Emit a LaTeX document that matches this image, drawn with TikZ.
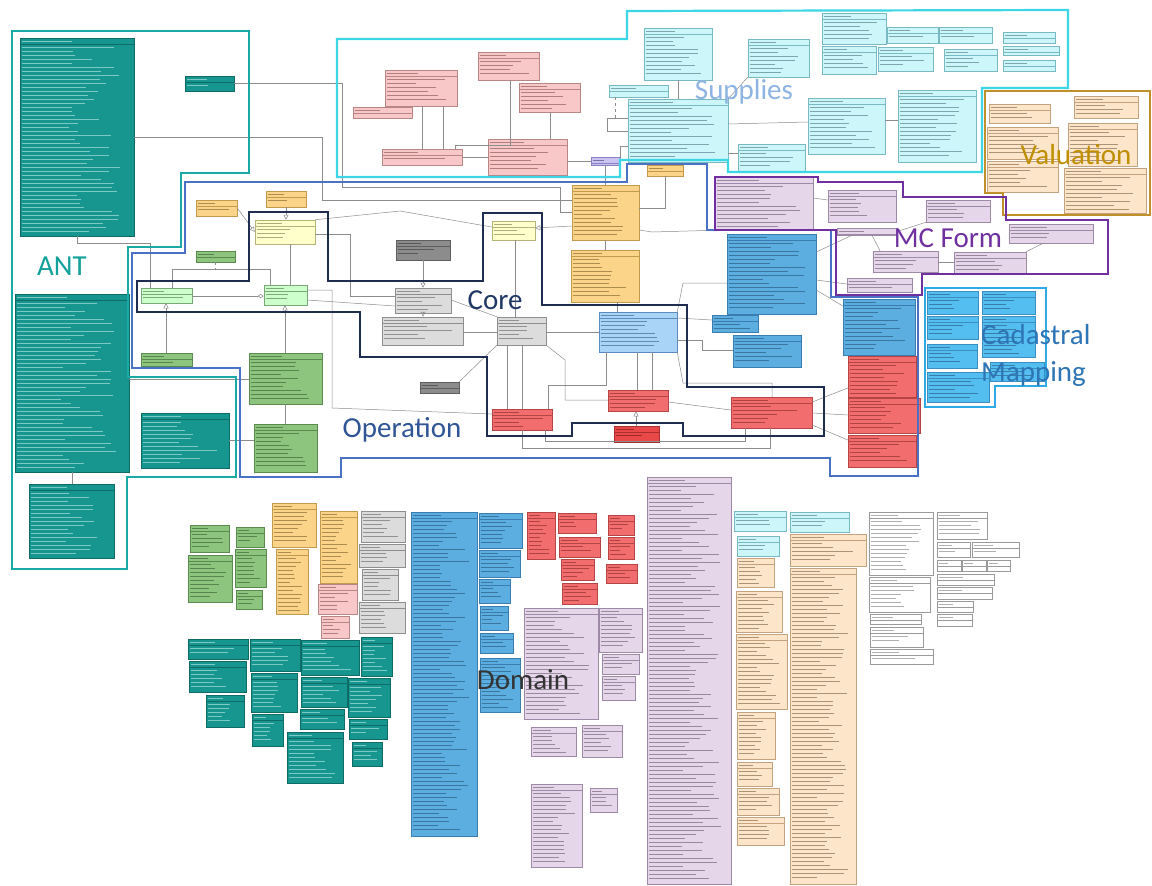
\documentclass[tikz,border=0pt]{standalone}
\usepackage{fontspec}
\setmainfont{Carlito}
\usetikzlibrary{fit,arrows.meta}
\definecolor{cTeal}{HTML}{17968F}\definecolor{cTealD}{HTML}{0E6B66}\definecolor{cTealT}{HTML}{CFF3F0}
\definecolor{cPink}{HTML}{F8C8C8}\definecolor{cPinkD}{HTML}{B98585}\definecolor{cPinkT}{HTML}{7A4040}
\definecolor{cLav}{HTML}{E6D6EA}\definecolor{cLavD}{HTML}{9E8AA6}\definecolor{cLavT}{HTML}{5A4A60}
\definecolor{cLil}{HTML}{C9C3F2}\definecolor{cLilD}{HTML}{8A82C0}\definecolor{cLilT}{HTML}{3A3270}
\definecolor{cCyan}{HTML}{CCF6FA}\definecolor{cCyanD}{HTML}{78B9C2}\definecolor{cCyanT}{HTML}{3E6670}
\definecolor{cYel}{HTML}{FBD48A}\definecolor{cYelD}{HTML}{C29A4E}\definecolor{cYelT}{HTML}{6E5220}
\definecolor{cLYel}{HTML}{FFFFCC}\definecolor{cLYelD}{HTML}{B3B37A}\definecolor{cLYelT}{HTML}{6A6A3A}
\definecolor{cLGrn}{HTML}{CCFFCC}\definecolor{cLGrnD}{HTML}{79A879}\definecolor{cLGrnT}{HTML}{3E663E}
\definecolor{cGrn}{HTML}{8DC47E}\definecolor{cGrnD}{HTML}{5A8A4E}\definecolor{cGrnT}{HTML}{2E5228}
\definecolor{cBlu}{HTML}{5BAEDF}\definecolor{cBluD}{HTML}{3A7DAF}\definecolor{cBluT}{HTML}{1F4A6E}
\definecolor{cCBlu}{HTML}{55BEF0}\definecolor{cCBluD}{HTML}{3A8FC0}\definecolor{cCBluT}{HTML}{1F4A6E}
\definecolor{cLBlu}{HTML}{A9D3F7}\definecolor{cLBluD}{HTML}{5A8CC0}\definecolor{cLBluT}{HTML}{2A4F78}
\definecolor{cRed}{HTML}{F26E6E}\definecolor{cRedD}{HTML}{B54545}\definecolor{cRedT}{HTML}{7A1F1F}
\definecolor{cDRed}{HTML}{E84848}\definecolor{cDRedD}{HTML}{A83030}\definecolor{cDRedT}{HTML}{6A1010}
\definecolor{cGry}{HTML}{DCDCDC}\definecolor{cGryD}{HTML}{8E8E8E}\definecolor{cGryT}{HTML}{555555}
\definecolor{cDGry}{HTML}{8C8C8C}\definecolor{cDGryD}{HTML}{5E5E5E}\definecolor{cDGryT}{HTML}{303030}
\definecolor{cPch}{HTML}{FDE5CA}\definecolor{cPchD}{HTML}{C3A27F}\definecolor{cPchT}{HTML}{6A5030}
\definecolor{cWht}{HTML}{FFFFFF}\definecolor{cWhtD}{HTML}{9A9A9A}\definecolor{cWhtT}{HTML}{707070}
\definecolor{cConn}{HTML}{8C8C8C}
\definecolor{rANT}{HTML}{19AAA6}\definecolor{rOp}{HTML}{4A72C4}\definecolor{rSup}{HTML}{3DD6E6}
\definecolor{rVal}{HTML}{C0902A}\definecolor{rMC}{HTML}{7030A0}\definecolor{rCad}{HTML}{2EAAE8}
\definecolor{rCore}{HTML}{1F2D50}
\definecolor{lANT}{HTML}{13A09B}\definecolor{lSup}{HTML}{8EB4E3}\definecolor{lVal}{HTML}{BF8F00}
\definecolor{lCore}{HTML}{203864}\definecolor{lCad}{HTML}{2E75B6}\definecolor{lOp}{HTML}{2F5597}
\definecolor{lDom}{HTML}{333333}
\newcommand\mkkind[4]{\tikzset{bx#1/.style={draw=#3,fill=#2,line width=0.5pt,inner sep=0pt},
  hd#1/.style={draw=#3,line width=0.4pt},
  tx#1/.style={draw=#4,line width=1.2pt,draw opacity=0.55}}}
\mkkind{teal}{cTeal}{cTealD}{cTealT}
\mkkind{pink}{cPink}{cPinkD}{cPinkT}
\mkkind{lav}{cLav}{cLavD}{cLavT}
\mkkind{lil}{cLil}{cLilD}{cLilT}
\mkkind{cyan}{cCyan}{cCyanD}{cCyanT}
\mkkind{yel}{cYel}{cYelD}{cYelT}
\mkkind{lyel}{cLYel}{cLYelD}{cLYelT}
\mkkind{lgrn}{cLGrn}{cLGrnD}{cLGrnT}
\mkkind{grn}{cGrn}{cGrnD}{cGrnT}
\mkkind{blu}{cBlu}{cBluD}{cBluT}
\mkkind{cblu}{cCBlu}{cCBluD}{cCBluT}
\mkkind{lblu}{cLBlu}{cLBluD}{cLBluT}
\mkkind{red}{cRed}{cRedD}{cRedT}
\mkkind{dred}{cDRed}{cDRedD}{cDRedT}
\mkkind{gry}{cGry}{cGryD}{cGryT}
\mkkind{dgry}{cDGry}{cDGryD}{cDGryT}
\mkkind{pch}{cPch}{cPchD}{cPchT}
\mkkind{wht}{cWht}{cWhtD}{cWhtT}
\tikzset{
  conn/.style={draw=cConn,line width=0.5pt},
  gen/.style={conn,-{Triangle[open,length=5pt,width=5pt]}},
  agg/.style={conn,-{Diamond[open,length=6pt,width=4pt]}},
  region/.style={line width=#1,line join=miter},
  lbl/.style={font=\fontsize{29}{37}\selectfont,inner sep=0pt}
}
\newcommand\umlbox[6]{%
  \node[bx#6, fit={(#2,#3) (#4,#5)}] (#1) {};
  \draw[hd#6] (#2,#3+6.5) -- (#4,#3+6.5);
  \draw[tx#6] (#2+2,#3+3.3) -- ({#2+2+0.45*(#4-#2-4)},#3+3.3);
  \pgfmathtruncatemacro\nr{((#5)-(#3)-9)/4}%
  \ifnum\nr>0
    \foreach \i in {1,...,\nr}{%
      \pgfmathsetmacro\w{((#4)-(#2)-4)*(0.4+0.5*rnd)}%
      \draw[tx#6] (#2+2,#3+5.5+\i*4) -- ++(\w,0);
    }%
  \fi
}
\begin{document}
\begin{tikzpicture}[x=1pt,y=-1pt]
\pgfmathsetseed{7}
\useasboundingbox (0,0) rectangle (1152,886);
\fill[white] (0,0) rectangle (1152,886);

% ---------- ANT ----------
\umlbox{antP}{20}{38}{134}{236}{teal}
\umlbox{antS}{185}{76}{234}{91}{teal}
\umlbox{antIC}{15}{294}{129}{472}{teal}
\umlbox{antIN}{29}{484}{114}{558}{teal}
\umlbox{antCt}{141}{413}{229}{468}{teal}

% ---------- Operation / Core ----------
\umlbox{opRes}{196}{200}{237}{216}{yel}
\umlbox{opDer}{266}{191}{306}{207}{yel}
\umlbox{colDRR}{255}{220}{315}{244}{lyel}
\umlbox{colMie}{196}{251}{235}{262}{grn}
\umlbox{colAgr}{141}{288}{192}{303}{lgrn}
\umlbox{colInt}{264}{285}{307}{305}{lgrn}
\umlbox{opAgr}{141}{353}{192}{366}{grn}
\umlbox{opInt}{249}{353}{322}{404}{grn}
\umlbox{opIC}{254}{424}{317}{472}{grn}
\umlbox{opPS}{647}{165}{683}{176}{yel}
\umlbox{opP}{572}{185}{639}{240}{yel}
\umlbox{opPD}{571}{250}{639}{302}{yel}
\umlbox{colB}{492}{221}{535}{240}{lyel}
\umlbox{gD}{396}{240}{450}{260}{dgry}
\umlbox{gF}{395}{288}{451}{313}{gry}
\umlbox{gFA}{382}{317}{463}{345}{gry}
\umlbox{gFE}{497}{317}{546}{345}{gry}
\umlbox{gD2}{420}{382}{459}{393}{dgry}
\umlbox{colUE}{599}{312}{677}{352}{lblu}
\umlbox{colT}{492}{409}{552}{430}{red}
\umlbox{colRF}{608}{390}{668}{411}{red}
\umlbox{opLi}{614}{426}{659}{442}{dred}
\umlbox{colP}{731}{397}{812}{428}{red}
\umlbox{opUC}{727}{234}{816}{314}{blu}
\umlbox{opSD}{712}{315}{758}{332}{blu}
\umlbox{opTr}{733}{335}{801}{367}{blu}
\umlbox{opCo}{843}{299}{915}{355}{blu}
\umlbox{rP1}{848}{356}{916}{397}{red}
\umlbox{rP2}{848}{398}{920}{433}{red}
\umlbox{rP3}{848}{435}{916}{467}{red}

% ---------- Supplies ----------
\umlbox{snr1}{385}{70}{457}{106}{pink}
\umlbox{snr2}{353}{107}{412}{118}{pink}
\umlbox{snr3}{382}{149}{462}{165}{pink}
\umlbox{snr4}{478}{52}{539}{80}{pink}
\umlbox{snr5}{519}{83}{580}{112}{pink}
\umlbox{snr6}{488}{139}{567}{175}{pink}
\umlbox{insP}{591}{157}{620}{165}{lil}
\umlbox{gcA}{644}{28}{712}{80}{cyan}
\umlbox{gcB}{609}{85}{668}{97}{cyan}
\umlbox{gcP}{628}{99}{728}{162}{cyan}
\umlbox{gcR}{748}{39}{809}{77}{cyan}
\umlbox{gcT}{738}{144}{805}{171}{cyan}
\umlbox{gcC}{808}{98}{885}{154}{cyan}
\umlbox{gcU}{898}{90}{976}{162}{cyan}
\umlbox{gc1}{822}{13}{886}{44}{cyan}
\umlbox{gc2}{887}{27}{938}{43}{cyan}
\umlbox{gc3}{939}{27}{992}{43}{cyan}
\umlbox{gc4}{822}{46}{876}{74}{cyan}
\umlbox{gc5}{878}{47}{933}{71}{cyan}
\umlbox{gc6}{944}{49}{997}{71}{cyan}
\umlbox{gc7}{1003}{32}{1055}{43}{cyan}
\umlbox{gc8}{1003}{46}{1059}{55}{cyan}
\umlbox{gc9}{1003}{60}{1055}{71}{cyan}

% ---------- Valuation ----------
\umlbox{av1}{989}{104}{1050}{123}{pch}
\umlbox{av2}{1074}{96}{1138}{118}{pch}
\umlbox{av3}{987}{127}{1058}{159}{pch}
\umlbox{av4}{1068}{123}{1137}{166}{pch}
\umlbox{av5}{987}{161}{1058}{192}{pch}
\umlbox{av6}{1064}{168}{1146}{213}{pch}

% ---------- MC Form ----------
\umlbox{fcmF}{715}{177}{813}{230}{lav}
\umlbox{fcm2}{828}{190}{896}{222}{lav}
\umlbox{fcm3}{926}{200}{990}{222}{lav}
\umlbox{fcm4}{837}{228}{897}{235}{lav}
\umlbox{fcm5}{873}{251}{938}{272}{lav}
\umlbox{fcm6}{954}{252}{1026}{273}{lav}
\umlbox{fcm7}{1009}{224}{1093}{243}{lav}
\umlbox{fcm8}{847}{278}{912}{292}{lav}

% ---------- Cadastral Mapping ----------
\umlbox{cm1}{927}{291}{978}{314}{cblu}
\umlbox{cm2}{982}{291}{1035}{314}{cblu}
\umlbox{cm3}{927}{316}{978}{339}{cblu}
\umlbox{cm4}{982}{316}{1035}{357}{cblu}
\umlbox{cm5}{927}{344}{977}{368}{cblu}
\umlbox{cm6}{927}{372}{989}{402}{cblu}
\umlbox{cm7}{990}{362}{1044}{381}{cblu}

% ---------- Domain ----------
\umlbox{dg1}{190}{525}{229}{552}{grn}
\umlbox{dg2}{236}{527}{264}{547}{grn}
\umlbox{dg3}{188}{555}{232}{602}{grn}
\umlbox{dg4}{235}{549}{266}{587}{grn}
\umlbox{dg5}{236}{590}{262}{609}{grn}
\umlbox{dy1}{272}{503}{316}{547}{yel}
\umlbox{dy2}{276}{549}{308}{614}{yel}
\umlbox{dy3}{320}{511}{357}{583}{yel}
\umlbox{dp1}{318}{584}{357}{614}{pink}
\umlbox{dp2}{321}{616}{349}{638}{pink}
\umlbox{dq1}{361}{511}{405}{542}{gry}
\umlbox{dq2}{359}{544}{405}{567}{gry}
\umlbox{dq3}{362}{569}{398}{600}{gry}
\umlbox{dq4}{359}{602}{405}{633}{gry}
\umlbox{dt1}{188}{639}{248}{659}{teal}
\umlbox{dt2}{189}{661}{246}{692}{teal}
\umlbox{dt3}{206}{695}{244}{727}{teal}
\umlbox{dt4}{250}{639}{300}{671}{teal}
\umlbox{dt5}{251}{673}{297}{712}{teal}
\umlbox{dt6}{252}{714}{283}{746}{teal}
\umlbox{dt7}{301}{640}{359}{675}{teal}
\umlbox{dt8}{301}{677}{347}{707}{teal}
\umlbox{dt9}{300}{709}{344}{729}{teal}
\umlbox{dt10}{287}{732}{343}{783}{teal}
\umlbox{dt11}{361}{637}{392}{676}{teal}
\umlbox{dt12}{348}{678}{390}{717}{teal}
\umlbox{dt13}{349}{719}{387}{739}{teal}
\umlbox{dt14}{352}{742}{382}{766}{teal}
\umlbox{db1}{411}{512}{477}{836}{blu}
\umlbox{db2}{479}{513}{522}{548}{blu}
\umlbox{db3}{479}{550}{520}{577}{blu}
\umlbox{db4}{479}{579}{510}{603}{blu}
\umlbox{db5}{480}{606}{508}{630}{blu}
\umlbox{db6}{480}{633}{513}{653}{blu}
\umlbox{db7}{480}{658}{520}{712}{blu}
\umlbox{dr1}{527}{512}{555}{559}{red}
\umlbox{dr2}{558}{513}{596}{533}{red}
\umlbox{dr3}{559}{537}{600}{557}{red}
\umlbox{dr4}{561}{559}{594}{580}{red}
\umlbox{dr5}{562}{583}{597}{604}{red}
\umlbox{dr6}{608}{515}{634}{535}{red}
\umlbox{dr7}{608}{537}{634}{559}{red}
\umlbox{dr8}{606}{564}{637}{583}{red}
\umlbox{dl1}{524}{608}{598}{719}{lav}
\umlbox{dl2}{599}{608}{642}{652}{lav}
\umlbox{dl3}{602}{654}{639}{674}{lav}
\umlbox{dl4}{602}{676}{635}{700}{lav}
\umlbox{dl5}{531}{727}{576}{756}{lav}
\umlbox{dl6}{582}{725}{622}{757}{lav}
\umlbox{dl7}{531}{784}{582}{867}{lav}
\umlbox{dl8}{590}{788}{617}{812}{lav}
\umlbox{dl9}{647}{477}{731}{884}{lav}
\umlbox{dc1}{734}{511}{786}{531}{cyan}
\umlbox{dc2}{737}{536}{779}{556}{cyan}
\umlbox{dc3}{790}{512}{849}{532}{cyan}
\umlbox{dk1}{737}{558}{774}{587}{pch}
\umlbox{dk2}{736}{591}{782}{632}{pch}
\umlbox{dk3}{736}{634}{787}{709}{pch}
\umlbox{dk4}{737}{712}{775}{759}{pch}
\umlbox{dk5}{737}{762}{772}{786}{pch}
\umlbox{dk6}{737}{788}{779}{815}{pch}
\umlbox{dk7}{737}{817}{784}{845}{pch}
\umlbox{dk8}{790}{534}{866}{566}{pch}
\umlbox{dk9}{790}{568}{856}{884}{pch}
\umlbox{dw1}{869}{512}{933}{575}{wht}
\umlbox{dw2}{869}{577}{930}{612}{wht}
\umlbox{dw3}{870}{614}{921}{624}{wht}
\umlbox{dw4}{870}{627}{923}{647}{wht}
\umlbox{dw5}{870}{649}{933}{664}{wht}
\umlbox{dw6}{937}{512}{987}{539}{wht}
\umlbox{dw7}{937}{542}{970}{557}{wht}
\umlbox{dw8}{972}{542}{1019}{557}{wht}
\umlbox{dw9}{937}{560}{961}{571}{wht}
\umlbox{dw10}{962}{560}{986}{571}{wht}
\umlbox{dw11}{987}{560}{1010}{571}{wht}
\umlbox{dw12}{937}{574}{994}{585}{wht}
\umlbox{dw13}{937}{587}{992}{599}{wht}
\umlbox{dw14}{937}{601}{973}{612}{wht}
\umlbox{dw15}{937}{614}{972}{626}{wht}

% ---------- connectors ----------
\draw[conn] (antP.east |- 0,137) -| (322,200) -- (opP.west |- 0,200);
\draw[conn] (antS.east) -| (342,187) -- (560,187) |- (opP.west |- 0,212);
\draw[conn] (antP.south) |- (150,243) -- (colAgr.north -| 150,0);
\draw[conn] (antIC.east |- 0,379) -- (opInt.west |- 0,379);
\draw[conn] (antCt.east |- 0,440) -- (opIC.west |- 0,440);
\draw[conn] (antIC.south -| 72,0) -- (antIN.north -| 72,0);
\draw[gen] (opInt.north -| 285,0) -- (colInt.south -| 285,0);
\draw[gen] (opAgr.north -| 166,0) -- (colAgr.south -| 166,0);
\draw[conn] (opIC.north -| 285,0) -- (opInt.south -| 285,0);
\draw[gen] (opDer.south -| 286,0) -- (colDRR.north -| 286,0);
\draw[gen] (opRes.east) -- (colDRR.west);
\draw[conn] (colDRR.south -| 290,0) -- (colInt.north -| 290,0);
\draw[conn] (colAgr.north -| 172,0) |- (270,269) -- (colInt.north -| 270,0);
\draw[conn,dashed] (colMie.south) -- (colMie.south |- 0,269);
\draw[agg] (colAgr.east |- 0,296) -- (colInt.west |- 0,296);
\draw[conn] (colDRR.east |- 0,234) -| (350,296) -- (gF.west |- 0,296);
\draw[conn] (colInt.east |- 0,300) -- (gF.west |- 0,306);
\draw[conn] (colInt.east |- 0,290) -| (332,408) -- (colT.west |- 0,414);
\draw[conn] (colDRR.north east) -- (400,211) -- (colB.west |- 0,227);
\draw[gen] (opP.west |- 0,226) -- (colB.east |- 0,228);
\draw[conn] (colB.south -| 515,0) -- (gFE.north -| 515,0);
\draw[gen] (gD.south -| 423,0) -- (gF.north -| 423,0);
\draw[gen] (gF.south -| 423,0) -- (gFA.north -| 423,0);
\draw[conn] (gF.east |- 0,300) -- (gFE.north west);
\draw[conn] (gFA.east |- 0,332) -- (gFE.west |- 0,332);
\draw[conn] (gFE.east |- 0,332) -- (colUE.west |- 0,332);
\draw[conn] (colUE.north -| 617,0) -- (opPD.south -| 617,0);
\draw[conn] (colUE.south -| 637,0) -- (colRF.north -| 637,0);
\draw[conn] (colUE.south -| 652,0) -- (colRF.north -| 652,0);
\draw[conn] (colUE.south -| 606,0) |- (548,385) -- (colT.north -| 548,0);
\draw[conn] (colUE.south east) -- (683,383) -- (772,383) -- (colP.north -| 772,0);
\draw[conn] (colRF.east |- 0,402) -- (colP.west |- 0,410);
\draw[gen] (opLi.north -| 636,0) -- (colRF.south -| 636,0);
\draw[conn] (gFE.south -| 507,0) -- (colT.north -| 507,0);
\draw[conn] (gFE.south -| 522,0) -- (colT.north -| 522,0);
\draw[conn] (gFE.south east) -- (565,360) |- (colRF.west |- 0,400);
\draw[conn] (colT.south -| 522,0) -- (522,448) -| (colP.south -| 770,0);
\draw[conn] (colT.south -| 545,0) -- (545,441) -| (colP.south -| 745,0);
\draw[conn] (gD2.north east) -- (gFE.south west);
\draw[conn] (opP.south -| 605,0) -- (opPD.north -| 605,0);
\draw[conn] (opP.north -| 605,0) -- (insP.south -| 605,0);
\draw[conn] (insP.north east) |- (gcP.west |- 0,146);
\draw[conn] (snr6.east |- 0,161) -- (insP.west |- 0,161);
\draw[conn] (gcP.north -| 678,0) -- (gcA.south -| 678,0);
\draw[conn,dashed] (gcB.south -| 615,0) -- (615,118);
\draw[conn] (gcP.west |- 0,118) -| (607,131) -- (gcP.west |- 0,131);
\draw[conn] (gcP.east |- 0,124) -- (gcC.west |- 0,122);
\draw[conn] (gcC.east |- 0,120) -- (gcU.west |- 0,120);
\draw[conn] (gcP.east |- 0,153) -- (gcT.west |- 0,153);
\draw[conn] (gcR.south west) -- (gcP.north east);
\draw[conn] (snr1.south -| 422,0) -- (snr3.north -| 422,0);
\draw[conn] (snr1.south -| 443,0) -- (snr3.north -| 443,0);
\draw[conn] (snr4.south -| 510,0) |- (455,145) -- (snr3.north -| 455,0);
\draw[conn] (snr5.south -| 550,0) -- (snr6.north -| 550,0);
\draw[conn] (snr3.east |- 0,157) -- (snr6.west |- 0,157);
\draw[conn] (opP.east |- 0,230) -- (652,232) -- (fcmF.south west);
\draw[conn] (opPS.south -| 665,0) |- (opP.east |- 0,208);
\draw[conn] (colUE.east |- 0,318) -- (opSD.west |- 0,320);
\draw[conn] (colUE.east |- 0,340) -| (702,350) -- (opTr.west |- 0,350);
\draw[conn] (colUE.north east) -- (683,283) -- (opUC.west |- 0,283);
\draw[conn] (opUC.east |- 0,252) -- (fcm4.south -| 852,0);
\draw[conn] (opUC.east |- 0,280) -- (fcm8.west |- 0,284);
\draw[conn] (opUC.east |- 0,290) -- (opCo.west |- 0,306);
\draw[conn] (fcm4.east) -- (fcm3.south west);
\draw[conn] (fcm5.north -| 880,0) -- (fcm4.south -| 872,0);
\draw[conn] (fcm5.east |- 0,262) -- (fcm6.west |- 0,262);
\draw[conn] (fcm6.north east) -- (fcm7.south -| 1043,0);
\draw[conn] (fcmF.east |- 0,198) -- (fcm2.west |- 0,200);
\draw[conn] (colP.east |- 0,402) -- (rP1.west |- 0,388);
\draw[conn] (colP.east |- 0,413) -- (rP2.west |- 0,415);
\draw[conn] (colP.east |- 0,425) -- (rP3.west |- 0,440);

% ---------- region outlines ----------
\draw[region=2pt, draw=rANT] (12,31) -- (249,31) -- (249,173) -- (181,173) -- (181,247) -- (128,247) -- (128,377) -- (236,377) -- (236,477) -- (127,477) -- (127,569) -- (12,569) -- cycle;
\draw[region=1.8pt, draw=rOp] (185,182) -- (627,182) -- (627,164) -- (707,164) -- (707,230) -- (831,230) -- (831,297) -- (918,297) -- (918,476) -- (830,476) -- (830,458) -- (341,458) -- (341,477) -- (240,477) -- (240,368) -- (132,368) -- (132,253) -- (185,253) -- cycle;
\draw[region=2.2pt, draw=rSup] (337,39) -- (627,39) -- (627,11) -- (1068,10) -- (1068,88) -- (982,88) -- (982,172) -- (728,172) -- (728,160) -- (620,160) -- (620,177) -- (337,177) -- cycle;
\draw[region=2pt, draw=rVal] (985,91) -- (1150,91) -- (1150,215) -- (1003,215) -- (1003,193) -- (985,193) -- cycle;
\draw[region=2.2pt, draw=rMC] (715,177) -- (818,177) -- (818,182) -- (903,182) -- (903,197) -- (1006,197) -- (1006,220) -- (1108,220) -- (1108,274) -- (922,274) -- (922,295) -- (836,295) -- (836,230) -- (715,230) -- cycle;
\draw[region=1.8pt, draw=rCad] (925,288) -- (1046,288) -- (1046,386) -- (995,386) -- (995,407) -- (925,407) -- cycle;
\draw[region=2.2pt, draw=rCore] (249,212) -- (328,212) -- (328,281) -- (483,281) -- (483,213) -- (542,213) -- (542,305) -- (687,305) -- (687,387) -- (824,387) -- (824,436) -- (683,436) -- (683,423) -- (572,423) -- (572,436) -- (487,436) -- (487,357) -- (360,357) -- (360,312) -- (137,312) -- (137,281) -- (249,281) -- cycle;

% ---------- labels ----------
\node[lbl, text=lANT] (tANT) at (62,266) {ANT};
\node[lbl, text=lSup] (tSup) at (744,92) {Supplies};
\node[lbl, text=lVal] (tVal) at (1076,155) {Valuation};
\node[lbl, text=rMC] (tMC) at (948,238) {MC Form};
\node[lbl, text=lCore] (tCore) at (495,300) {Core};
\node[lbl, text=lCad, anchor=west, align=left] (tCad) at (981,355) {Cadastral\\Mapping};
\node[lbl, text=lOp] (tOp) at (402,430) {Operation};
\node[lbl, text=lDom] (tDom) at (523,680) {Domain};
\end{tikzpicture}
\end{document}
